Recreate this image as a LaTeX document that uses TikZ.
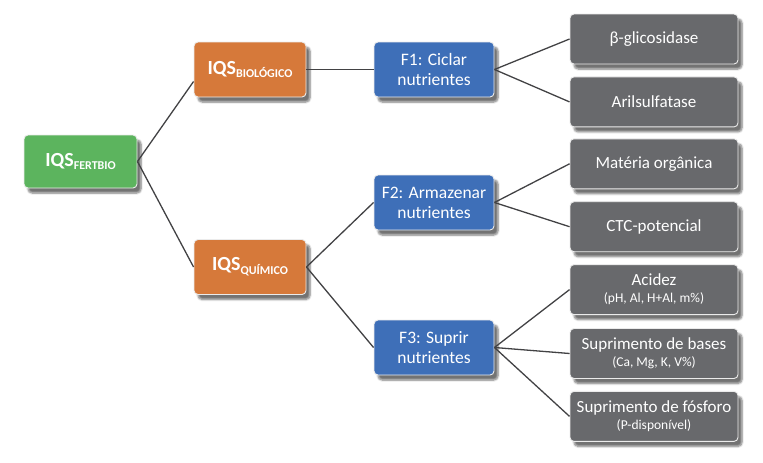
\documentclass[tikz,border=0pt]{standalone}
\usepackage{fontspec}
\setmainfont{Carlito}
\usepackage{xcolor}
\usetikzlibrary{positioning,shadows.blur}

\definecolor{iqsgreen}{RGB}{92,180,94}
\definecolor{iqsorange}{RGB}{214,121,58}
\definecolor{funcblue}{RGB}{62,111,184}
\definecolor{indgray}{RGB}{104,105,108}
\definecolor{linkgray}{RGB}{66,66,68}

\newcommand{\iqs}[1]{\textbf{IQS}\raisebox{-0.4ex}{\fontsize{12}{12}\selectfont\textbf{#1}}}
\newcommand{\detail}[1]{\\[-1pt]{\fontsize{13.5}{15}\selectfont #1}}

\begin{document}
\begin{tikzpicture}[
    x=1pt, y=-1pt,
    box/.style={draw=white!92!black, line width=0.9pt, rounded corners=4pt, align=center, text=white,
        inner sep=2pt, blur shadow={shadow xshift=4pt, shadow yshift=-5pt, shadow blur steps=6, shadow opacity=55}},
    root/.style={box, fill=iqsgreen, minimum width=113pt, minimum height=53pt, font=\fontsize{20}{22}\selectfont},
    index/.style={box, fill=iqsorange, minimum width=112pt, minimum height=55pt, font=\fontsize{20}{22}\selectfont},
    func/.style={box, fill=funcblue, minimum width=120pt, minimum height=55pt, font=\fontsize{17.5}{20}\selectfont},
    ind/.style={box, fill=indgray, minimum width=168pt, minimum height=50pt, font=\fontsize{17}{18}\selectfont},
    link/.style={draw=linkgray, line width=1.3pt}
]
\useasboundingbox (0,0) rectangle (763,463);

% indices
\node[root] (fertbio) at (80.5,161.5) {\iqs{FERTBIO}};
\node[index] (bio) at (250,69.5) {\iqs{BIOLÓGICO}};
\node[index] (quim) at (250,267) {\iqs{QUÍMICO}};

% functions
\node[func] (f1) at (434,69.5) {F1: Ciclar\\nutrientes};
\node[func] (f2) at (434,202.5) {F2: Armazenar\\nutrientes};
\node[func] (f3) at (434,347.5) {F3: Suprir\\nutrientes};

% indicators
\node[ind] (glic) at (654,39) {β-glicosidase};
\node[ind, below=12pt of glic] (aril) {Arilsulfatase};
\node[ind, below=11pt of aril] (mo) {Matéria orgânica};
\node[ind, below=12pt of mo] (ctc) {CTC-potencial};
\node[ind, below=12pt of ctc] (acid) {Acidez\detail{(pH, Al, H+Al, m\%)}};
\node[ind, below=13pt of acid] (bases) {Suprimento de bases\detail{(Ca, Mg, K, V\%)}};
\node[ind, below=12pt of bases] (fosf) {Suprimento de fósforo\detail{(P-disponível)}};

% links
\draw[link] (fertbio.east) -- ([yshift=-12pt]bio.west);
\draw[link] (fertbio.east) -- (quim.west);
\draw[link] (bio.east) -- (f1.west);
\draw[link] (quim.east) -- (f2.west);
\draw[link] (quim.east) -- (f3.west);
\draw[link] (f1.east) -- (glic.west);
\draw[link] (f1.east) -- (aril.west);
\draw[link] (f2.east) -- (mo.west);
\draw[link] (f2.east) -- (ctc.west);
\draw[link] (f3.east) -- (acid.west);
\draw[link] (f3.east) -- (bases.west);
\draw[link] (f3.east) -- (fosf.west);
\end{tikzpicture}
\end{document}
